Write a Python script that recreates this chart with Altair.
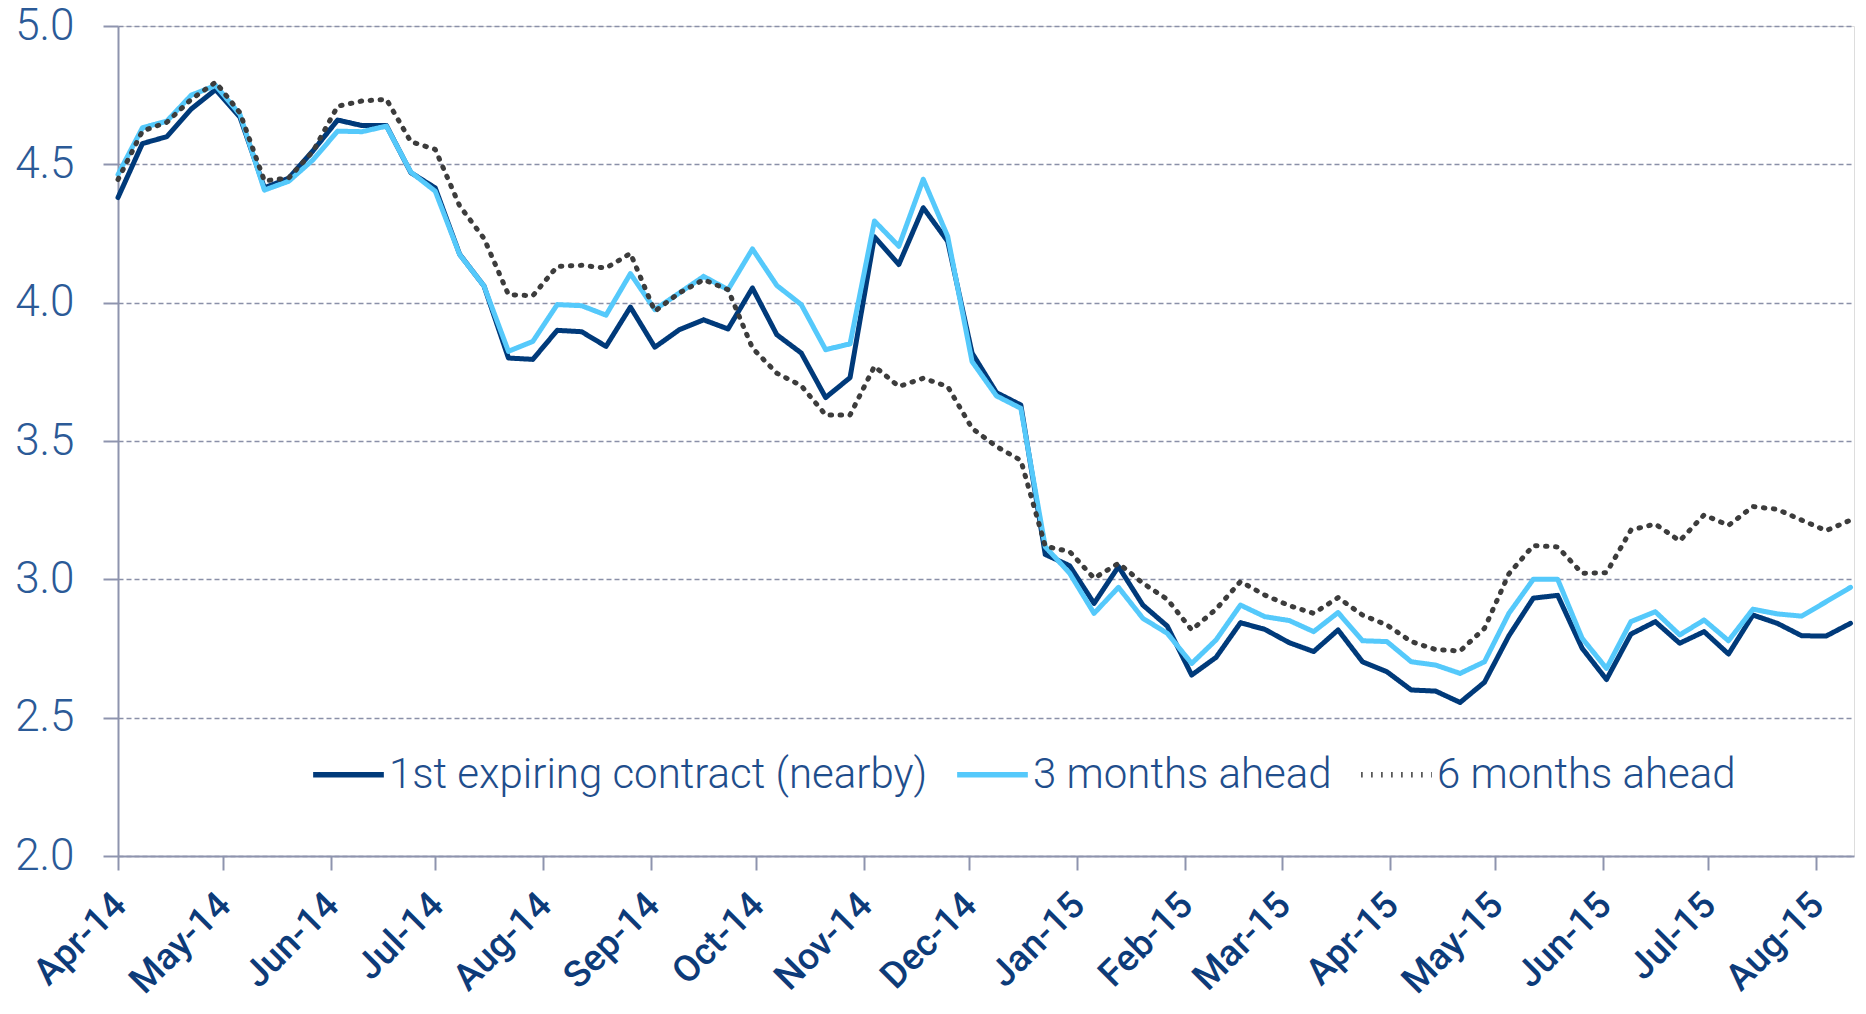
import altair as alt
import pandas as pd

# weekly observations, Apr-2014 .. Aug-2015
dates = pd.date_range("2014-04-01", periods=72, freq="7D")

series_names = ["1st expiring contract (nearby)", "3 months ahead", "6 months ahead"]

nearby = [4.38, 4.575, 4.60, 4.70, 4.77, 4.67, 4.415, 4.45, 4.55, 4.66,
          4.64, 4.64, 4.47, 4.415, 4.175, 4.06, 3.80, 3.795, 3.90, 3.895,
          3.842, 3.984, 3.839, 3.902, 3.938, 3.905, 4.053, 3.884, 3.818, 3.657,
          3.729, 4.238, 4.138, 4.343, 4.222, 3.818, 3.675, 3.63, 3.09, 3.049,
          2.913, 3.046, 2.907, 2.831, 2.654, 2.718, 2.843, 2.819, 2.771, 2.739,
          2.817, 2.702, 2.666, 2.60, 2.596, 2.555, 2.628, 2.796, 2.932, 2.942,
          2.751, 2.638, 2.802, 2.847, 2.769, 2.811, 2.73, 2.871, 2.841, 2.796,
          2.795, 2.841]

ahead3 = [4.463, 4.632, 4.656, 4.75, 4.785, 4.68, 4.407, 4.439, 4.517, 4.62,
          4.618, 4.638, 4.472, 4.403, 4.174, 4.06, 3.824, 3.86, 3.993, 3.989,
          3.955, 4.105, 3.975, 4.035, 4.095, 4.047, 4.194, 4.062, 3.993, 3.83,
          3.851, 4.295, 4.204, 4.446, 4.24, 3.787, 3.663, 3.618, 3.118, 3.022,
          2.877, 2.971, 2.859, 2.805, 2.696, 2.781, 2.907, 2.865, 2.851, 2.811,
          2.88, 2.778, 2.775, 2.702, 2.69, 2.66, 2.702, 2.877, 3.00, 3.00,
          2.787, 2.678, 2.847, 2.883, 2.799, 2.853, 2.778, 2.892, 2.875, 2.867,
          2.919, 2.971]

ahead6 = [4.445, 4.62, 4.652, 4.735, 4.797, 4.686, 4.44, 4.451, 4.548, 4.71,
          4.729, 4.735, 4.582, 4.554, 4.35, 4.232, 4.029, 4.025, 4.131, 4.135,
          4.125, 4.178, 3.969, 4.035, 4.083, 4.047, 3.836, 3.745, 3.70, 3.594,
          3.594, 3.77, 3.697, 3.727, 3.697, 3.546, 3.48, 3.43, 3.12, 3.10,
          3.004, 3.058, 2.986, 2.928, 2.817, 2.892, 2.992, 2.943, 2.905, 2.877,
          2.934, 2.871, 2.835, 2.775, 2.746, 2.741, 2.823, 3.02, 3.122, 3.117,
          3.022, 3.024, 3.178, 3.20, 3.139, 3.233, 3.195, 3.263, 3.253, 3.214,
          3.176, 3.214]

y_ticks = [2.0, 2.5, 3.0, 3.5, 4.0, 4.5, 5.0]
month_ticks = [(2014, m) for m in range(4, 13)] + [(2015, m) for m in range(1, 9)]

colors = ["#003A7A", "#55C9FB", "#3C3C3C"]
dashes = [[1, 0], [1, 0], [1.5, 8.5]]

frames = []
for name, vals in zip(series_names, [nearby, ahead3, ahead6]):
    frames.append(pd.DataFrame({"date": dates, "value": vals, "series": name}))
df = pd.concat(frames, ignore_index=True)

legend = alt.Legend(
    title=None,
    orient="none",
    legendX=192,
    legendY=710,
    direction="horizontal",
    symbolType="stroke",
    symbolSize=5000,
    symbolStrokeWidth=5.5,
    labelFont="Roboto",
    labelFontWeight=300,
    labelFontSize=42,
    labelColor="#1F4E8C",
    labelOffset=2,
    labelLimit=0,
    columnPadding=18,
    padding=0,
)

chart = alt.Chart(df).mark_line(
    strokeWidth=5, strokeJoin="round", strokeCap="round"
).encode(
    x=alt.X(
        "date:T",
        scale=alt.Scale(domain=[alt.DateTime(year=2014, month=4, date=1),
                                alt.DateTime(year=2015, month=8, date=12)]),
        axis=alt.Axis(
            title=None,
            values=[alt.DateTime(year=y, month=m, date=1) for y, m in month_ticks],
            format="%b-%y",
            labelAngle=-45,
            labelAlign="right",
            labelBaseline="middle",
            labelFont="Roboto",
            labelFontWeight=500,
            labelFontSize=37,
            labelColor="#0D3B79",
            labelPadding=29,
            labelOffset=2,
            labelOverlap=False,
            labelFlush=False,
            tickSize=14,
            tickWidth=2,
            tickColor="#8E94AE",
            domainColor="#8E94AE",
            domainWidth=2,
            grid=False,
        ),
    ),
    y=alt.Y(
        "value:Q",
        scale=alt.Scale(domain=[2, 5], nice=False, zero=False),
        axis=alt.Axis(
            title=None,
            values=y_ticks,
            format=".1f",
            labelFont="Roboto",
            labelFontWeight=300,
            labelFontSize=44,
            labelColor="#2B5A97",
            labelPadding=29,
            tickSize=15,
            tickWidth=2,
            tickColor="#8E94AE",
            domainColor="#8E94AE",
            domainWidth=2,
            grid=True,
            gridColor="#8A90A8",
            gridDash=[5, 3],
            gridWidth=1.5,
        ),
    ),
    color=alt.Color("series:N", scale=alt.Scale(domain=series_names, range=colors), legend=legend),
    strokeDash=alt.StrokeDash("series:N", scale=alt.Scale(domain=series_names, range=dashes), legend=legend),
).properties(
    width=1736,
    height=830,
    autosize=alt.AutoSizeParams(type="none"),
    padding={"left": 110, "top": 18, "right": 4, "bottom": 146},
).configure_view(stroke=None).configure(background="white")

chart.save("out.html", embed_options={"renderer": "svg", "actions": False})
